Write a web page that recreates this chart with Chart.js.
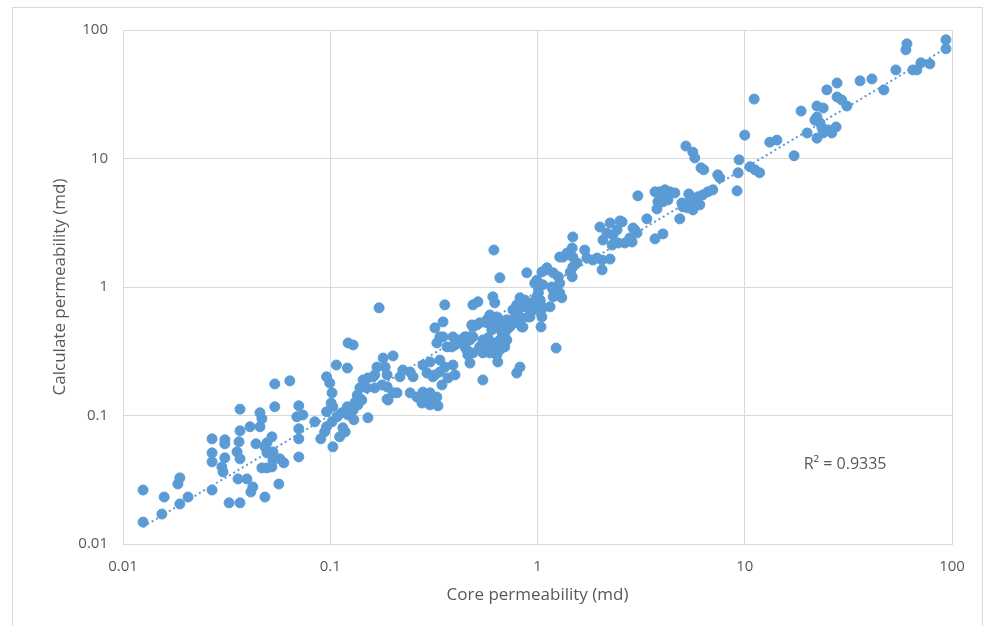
<!DOCTYPE html>
<html>
<head>
<meta charset="utf-8">
<title>Core vs calculated permeability</title>
<script src="https://cdn.jsdelivr.net/npm/chart.js@4"></script>
<style>
  html, body { margin: 0; padding: 0; background: #ffffff; }
  #wrap { position: relative; width: 986px; height: 626px; overflow: hidden; }
  #wrap canvas { position: absolute; left: 0; top: 0; }
  #frame { position: absolute; left: 12px; top: 7px; width: 971px; height: 650px;
           border: 1px solid #d9d9d9; box-sizing: border-box; pointer-events: none; }
</style>
</head>
<body>
<div id="wrap">
  <canvas id="chart" width="986" height="626"></canvas>
  <div id="frame"></div>
</div>
<script>
// Core permeability (md) for each sample
const corePerm = [
  0.0125, 0.0125, 0.0154, 0.0158, 0.0184, 0.0188, 0.0188, 0.0206, 0.0269, 0.0269,
  0.0269, 0.0269, 0.0300, 0.0304, 0.0310, 0.0310, 0.0310, 0.0325, 0.0355, 0.0367,
  0.0367, 0.0359, 0.0396, 0.0367, 0.0367, 0.0363, 0.0410, 0.0458, 0.0414, 0.0423,
  0.0438, 0.0458, 0.0468, 0.0468, 0.0495, 0.0523, 0.0484, 0.0495, 0.0484, 0.0523,
  0.0529, 0.0571, 0.0597, 0.0565, 0.0540, 0.0638, 0.0540, 0.0705, 0.0690, 0.0737,
  0.0705, 0.0705, 0.0705, 0.0842, 0.0900, 0.0960, 0.0960, 0.0960, 0.101, 0.102,
  0.102, 0.103, 0.107, 0.0495, 0.0529, 0.0940, 0.103, 0.0995, 0.122, 0.129,
  0.121, 0.172, 0.180, 0.201, 0.184, 0.168, 0.152, 0.144, 0.164, 0.178,
  0.188, 0.224, 0.243, 0.251, 0.217, 0.280, 0.303, 0.293, 0.313, 0.338,
  0.320, 0.350, 0.327, 0.350, 0.366, 0.346, 0.338, 0.243, 0.262, 0.280,
  0.303, 0.327, 0.303, 0.331, 0.210, 0.188, 0.139, 0.135, 0.142, 0.132,
  0.121, 0.114, 0.108, 0.129, 0.136, 0.130, 0.152, 0.115, 0.111, 0.118,
  0.357, 0.188, 0.161, 0.150, 0.164, 0.201, 0.190, 0.122, 0.277, 0.320,
  0.391, 0.400, 0.370, 0.545, 0.338, 0.391, 0.400, 0.357, 0.293, 0.616,
  0.658, 0.488, 0.516, 0.482, 0.510, 0.526, 0.456, 0.472, 0.446, 0.461,
  0.472, 0.526, 0.545, 0.570, 0.545, 0.577, 0.589, 0.609, 0.622, 0.636,
  0.658, 0.680, 0.636, 0.672, 0.711, 0.602, 0.622, 0.658, 0.695, 0.636,
  0.643, 0.680, 0.761, 0.823, 0.761, 0.794, 0.823, 0.840, 0.735, 0.840,
  0.823, 0.794, 0.888, 0.970, 1.01, 1.11, 1.05, 0.992, 1.03, 1.06,
  0.950, 0.920, 0.888, 1.04, 1.15, 1.19, 1.17, 1.24, 1.23, 1.28,
  1.19, 0.422, 0.386, 0.456, 0.488, 0.488, 0.570, 0.570, 0.488, 0.446,
  0.589, 0.570, 0.622, 0.609, 0.658, 0.711, 0.735, 0.680, 0.711, 0.643,
  0.695, 0.658, 0.589, 0.869, 0.794, 0.850, 0.920, 0.899, 0.823, 0.777,
  0.850, 0.992, 1.01, 1.03, 0.950, 0.992, 1.03, 1.05, 1.26, 1.28,
  1.21, 1.31, 1.11, 1.48, 1.47, 1.39, 1.33, 1.48, 1.55, 1.48,
  1.47, 1.69, 1.73, 1.85, 1.94, 2.05, 2.24, 2.05, 2.00, 2.24,
  2.56, 2.16, 2.31, 2.07, 2.29, 2.45, 2.64, 2.86, 2.95, 3.05,
  2.50, 2.42, 2.89, 3.02, 2.79, 1.44, 1.19, 1.28, 1.06, 3.69,
  3.90, 4.12, 4.35, 4.60, 4.20, 3.90, 4.03, 3.81, 4.26, 3.77,
  3.37, 3.69, 4.03, 5.20, 5.62, 5.74, 6.15, 6.34, 7.01, 6.63,
  6.27, 5.94, 6.07, 5.87, 5.44, 5.62, 5.31, 5.03, 4.97, 4.86,
  5.37, 7.41, 7.58, 9.39, 9.29, 9.18, 10.0, 10.6, 11.2, 11.8,
  11.1, 13.2, 14.3, 17.3, 18.7, 20.0, 22.3, 23.9, 22.3, 21.8,
  23.1, 23.6, 25.2, 27.6, 26.3, 23.9, 22.3, 24.9, 27.9, 27.9,
  29.4, 31.1, 36.0, 41.1, 46.9, 53.6, 60.6, 59.9, 64.7, 67.7,
  70.8, 78.2, 93.5, 93.5
];

// Calculated permeability (md), same order as corePerm
const calcPerm = [
  0.0263, 0.0148, 0.0171, 0.0232, 0.0293, 0.0327, 0.0205, 0.0232, 0.0263, 0.0658,
  0.0512, 0.0436, 0.0398, 0.0364, 0.0647, 0.0602, 0.0468, 0.0209, 0.0521, 0.0460,
  0.0209, 0.0321, 0.0321, 0.112, 0.0760, 0.0624, 0.0817, 0.0817, 0.0254, 0.0278,
  0.0602, 0.105, 0.0943, 0.0391, 0.0391, 0.0398, 0.0570, 0.0512, 0.0232, 0.0682,
  0.0451, 0.0460, 0.0428, 0.0293, 0.176, 0.186, 0.117, 0.119, 0.0977, 0.101,
  0.0788, 0.0658, 0.0476, 0.0893, 0.0658, 0.200, 0.107, 0.0817, 0.125, 0.150,
  0.0893, 0.0570, 0.247, 0.0613, 0.0521, 0.0746, 0.117, 0.179, 0.367, 0.354,
  0.234, 0.688, 0.280, 0.291, 0.238, 0.238, 0.196, 0.189, 0.207, 0.173,
  0.167, 0.226, 0.218, 0.200, 0.200, 0.247, 0.261, 0.214, 0.200, 0.218,
  0.481, 0.535, 0.367, 0.409, 0.342, 0.173, 0.270, 0.150, 0.139, 0.152,
  0.150, 0.139, 0.121, 0.119, 0.150, 0.134, 0.164, 0.144, 0.132, 0.127,
  0.117, 0.105, 0.0977, 0.110, 0.121, 0.0926, 0.0960, 0.0802, 0.0682, 0.0746,
  0.726, 0.207, 0.200, 0.164, 0.164, 0.150, 0.132, 0.101, 0.125, 0.207,
  0.247, 0.207, 0.196, 0.189, 0.409, 0.409, 0.354, 0.238, 0.132, 1.94,
  1.18, 0.726, 0.767, 0.507, 0.507, 0.526, 0.409, 0.387, 0.342, 0.296,
  0.256, 0.342, 0.387, 0.342, 0.307, 0.402, 0.324, 0.839, 0.753, 0.585,
  0.555, 0.526, 0.489, 0.447, 0.464, 0.464, 0.367, 0.387, 0.409, 0.296,
  0.261, 0.342, 0.555, 0.585, 0.664, 0.701, 0.824, 0.701, 0.507, 0.489,
  0.238, 0.214, 1.29, 1.07, 0.977, 1.36, 1.31, 0.839, 0.753, 0.688,
  0.664, 0.585, 0.753, 0.489, 0.701, 0.839, 1.00, 1.00, 0.335, 1.71,
  1.29, 0.387, 0.342, 0.324, 0.307, 0.489, 0.526, 0.367, 0.409, 0.409,
  0.606, 0.555, 0.555, 0.489, 0.489, 0.555, 0.489, 0.409, 0.387, 0.367,
  0.342, 0.324, 0.307, 0.791, 0.726, 0.701, 0.664, 0.585, 0.555, 0.526,
  0.489, 1.13, 0.900, 0.791, 0.753, 0.701, 0.641, 0.585, 1.20, 1.07,
  0.870, 0.824, 1.41, 2.45, 2.01, 1.84, 1.71, 1.71, 1.54, 1.43,
  1.20, 1.94, 1.68, 1.62, 1.68, 1.62, 1.65, 1.36, 2.93, 3.15,
  3.21, 2.63, 2.54, 2.32, 2.12, 2.20, 2.20, 2.24, 2.78, 5.12,
  3.27, 2.78, 2.88, 2.63, 2.41, 1.31, 0.951, 0.900, 1.04, 5.50,
  5.50, 5.70, 5.50, 5.40, 5.03, 4.94, 4.60, 4.60, 4.76, 4.05,
  3.39, 2.37, 2.59, 12.5, 11.2, 10.1, 8.46, 8.17, 5.70, 5.50,
  5.21, 5.03, 4.36, 4.51, 4.76, 3.98, 4.13, 4.20, 4.51, 3.39,
  5.30, 7.46, 7.07, 9.77, 7.74, 5.60, 15.2, 8.62, 8.17, 7.74,
  29.0, 13.4, 13.9, 10.5, 23.4, 15.8, 25.6, 24.7, 21.0, 19.9,
  18.9, 17.3, 16.7, 17.6, 15.8, 15.8, 14.4, 34.2, 38.7, 30.1,
  28.5, 25.6, 40.2, 41.6, 34.2, 48.9, 78.0, 70.1, 48.9, 48.9,
  55.5, 54.5, 83.9, 71.4
];

// Decade ticks shared by both log axes
const tickValues = [0.01, 0.1, 1, 10, 100];
const tickLabels = ['0.01', '0.1', '1', '10', '100'];
const rSquaredText = 'R\u00B2 = 0.9335';

const BLUE = '#5B9BD5';
const TEXT = '#595959';
const GRID = '#d9d9d9';

const samples = corePerm.map((x, i) => ({ x: x, y: calcPerm[i] }));

// Power-law trend: least squares on log10 values
const lx = corePerm.map(Math.log10);
const ly = calcPerm.map(Math.log10);
const n = lx.length;
const mx = lx.reduce((s, v) => s + v, 0) / n;
const my = ly.reduce((s, v) => s + v, 0) / n;
let sxy = 0, sxx = 0;
for (let i = 0; i < n; i++) {
  sxy += (lx[i] - mx) * (ly[i] - my);
  sxx += (lx[i] - mx) * (lx[i] - mx);
}
const slope = sxy / sxx;
const coef = Math.pow(10, my - slope * mx);
const xMin = Math.min(...corePerm);
const xMax = Math.max(...corePerm);
const trend = [xMin, xMax].map(x => ({ x: x, y: coef * Math.pow(x, slope) }));

const decadeTicks = scale => { scale.ticks = tickValues.map(v => ({ value: v })); };
const tickText = v => tickLabels[tickValues.indexOf(v)];

// Draws the fit statistic inside the plot area
const rSquaredNote = {
  id: 'rSquaredNote',
  afterDatasetsDraw(chart) {
    const { ctx, chartArea: a } = chart;
    ctx.save();
    ctx.font = '16px "Open Sans", sans-serif';
    ctx.fillStyle = TEXT;
    ctx.textAlign = 'center';
    ctx.textBaseline = 'middle';
    ctx.fillText(rSquaredText, a.left + 0.871 * (a.right - a.left), a.top + 0.846 * (a.bottom - a.top));
    ctx.restore();
  }
};

Chart.defaults.font.family = '"Open Sans", sans-serif';
Chart.defaults.color = TEXT;

new Chart(document.getElementById('chart'), {
  type: 'scatter',
  data: {
    datasets: [
      {
        label: 'Trend',
        type: 'line',
        data: trend,
        borderColor: BLUE,
        borderWidth: 2,
        borderDash: [2, 3],
        pointRadius: 0,
        fill: false,
        order: 0
      },
      {
        label: 'Permeability',
        data: samples,
        backgroundColor: BLUE,
        borderColor: BLUE,
        borderWidth: 1,
        pointRadius: 5,
        pointHoverRadius: 5,
        order: 1
      }
    ]
  },
  options: {
    responsive: false,
    animation: false,
    devicePixelRatio: 1,
    layout: { padding: { left: 0, right: 34, top: 30, bottom: 0 } },
    plugins: {
      legend: { display: false },
      tooltip: { enabled: false }
    },
    scales: {
      x: {
        type: 'logarithmic',
        min: 0.01,
        max: 100,
        afterBuildTicks: decadeTicks,
        afterFit: s => { s.height = 82; },
        ticks: { callback: tickText, color: TEXT, font: { size: 15 }, padding: 14, maxRotation: 0, autoSkip: false },
        grid: { color: GRID, drawTicks: false },
        border: { color: GRID },
        title: {
          display: true,
          text: 'Core permeability (md)',
          color: TEXT,
          font: { size: 17 },
          padding: { top: 4, bottom: 21 }
        }
      },
      y: {
        type: 'logarithmic',
        min: 0.01,
        max: 100,
        afterBuildTicks: decadeTicks,
        afterFit: s => { s.width = 123; },
        ticks: { callback: tickText, color: TEXT, font: { size: 15 }, padding: 15, autoSkip: false },
        grid: { color: GRID, drawTicks: false },
        border: { color: GRID },
        title: {
          display: true,
          text: 'Calculate permeability (md)',
          color: TEXT,
          font: { size: 17 },
          padding: { top: 50, bottom: 4 }
        }
      }
    }
  },
  plugins: [rSquaredNote]
});
</script>
</body>
</html>
